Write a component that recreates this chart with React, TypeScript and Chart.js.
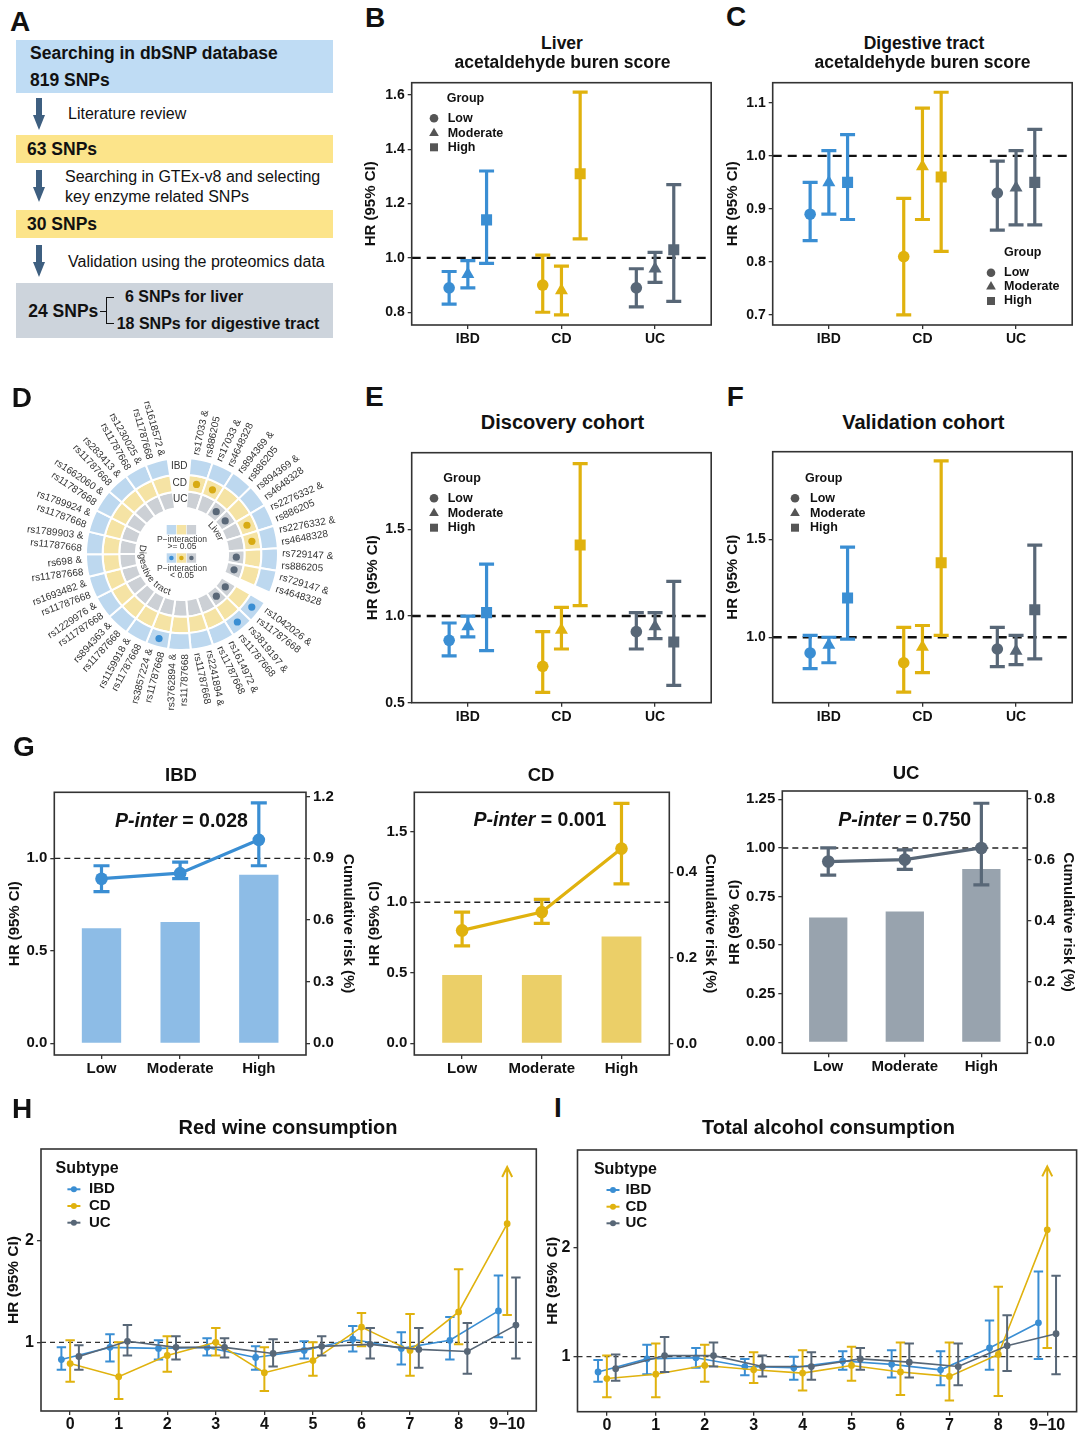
import React, { useEffect, useRef } from 'react';
import { Chart, registerables } from 'chart.js';

Chart.register(...registerables);

const FONT = '"Liberation Sans", Arial, Helvetica, sans-serif';

// ---------------- data ----------------
const SUBTYPES = ['IBD', 'CD', 'UC'];
const GROUPS = ['Low', 'Moderate', 'High'];
const LEVELS = ['0', '1', '2', '3', '4', '5', '6', '7', '8', '9−10'];

// B: liver acetaldehyde burden score, [subtype][group]
const B_HR = [[0.89, 0.94, 1.14], [0.90, 0.88, 1.31], [0.89, 0.96, 1.03]];
const B_LO = [[0.83, 0.89, 0.98], [0.80, 0.79, 1.07], [0.82, 0.91, 0.84]];
const B_HI = [[0.95, 0.99, 1.32], [1.01, 0.97, 1.61], [0.96, 1.02, 1.27]];
// C: digestive tract acetaldehyde burden score
const C_HR = [[0.89, 0.95, 0.95], [0.81, 0.98, 0.96], [0.93, 0.94, 0.95]];
const C_LO = [[0.84, 0.89, 0.88], [0.70, 0.88, 0.82], [0.86, 0.87, 0.87]];
const C_HI = [[0.95, 1.01, 1.04], [0.92, 1.09, 1.12], [0.99, 1.01, 1.05]];
// E: discovery cohort
const E_HR = [[0.86, 0.94, 1.02], [0.71, 0.92, 1.41], [0.91, 0.94, 0.85]];
const E_LO = [[0.77, 0.88, 0.80], [0.56, 0.81, 1.06], [0.81, 0.87, 0.60]];
const E_HI = [[0.96, 1.00, 1.30], [0.91, 1.05, 1.88], [1.02, 1.02, 1.20]];
// F: validation cohort
const F_HR = [[0.92, 0.96, 1.20], [0.87, 0.95, 1.38], [0.94, 0.93, 1.14]];
const F_LO = [[0.84, 0.87, 0.99], [0.72, 0.82, 1.01], [0.85, 0.86, 0.89]];
const F_HI = [[1.01, 1.00, 1.46], [1.05, 1.06, 1.90], [1.05, 1.01, 1.47]];

// G: HR line + cumulative risk bars, [subtype][group]
const G_HR = [[0.89, 0.92, 1.10], [0.80, 0.93, 1.38], [0.93, 0.94, 1.00]];
const G_LO = [[0.82, 0.89, 0.96], [0.69, 0.85, 1.13], [0.86, 0.89, 0.81]];
const G_HI = [[0.96, 0.98, 1.30], [0.93, 1.02, 1.70], [1.00, 0.99, 1.23]];
const G_RISK = [[0.56, 0.59, 0.82], [0.16, 0.16, 0.25], [0.41, 0.43, 0.57]];
const G_PINTER = ['0.028', '0.001', '0.750'];
const G_LEFT_TICKS = [[0, 0.5, 1.0], [0, 0.5, 1.0, 1.5], [0, 0.25, 0.5, 0.75, 1.0, 1.25]];
const G_RIGHT_TICKS = [[0, 0.3, 0.6, 0.9, 1.2], [0, 0.2, 0.4], [0, 0.2, 0.4, 0.6, 0.8]];

// H: red wine consumption, [subtype][level]
const H_HR = [
  [0.83, 0.95, 0.94, 0.95, 0.85, 0.92, 1.03, 0.94, 1.02, 1.31],
  [0.79, 0.66, 0.87, 1.00, 0.70, 0.82, 1.15, 0.92, 1.30, 2.17],
  [0.86, 1.01, 0.95, 0.95, 0.89, 0.96, 0.98, 0.93, 0.91, 1.17],
];
const H_LO = [
  [0.73, 0.81, 0.83, 0.87, 0.73, 0.84, 0.91, 0.78, 0.83, 1.05],
  [0.61, 0.44, 0.71, 0.87, 0.52, 0.67, 0.96, 0.67, 0.98, 1.27],
  [0.73, 0.87, 0.83, 0.85, 0.76, 0.87, 0.84, 0.75, 0.69, 0.84],
];
const H_HI = [
  [0.95, 1.08, 1.02, 1.04, 0.96, 1.01, 1.16, 1.10, 1.25, 1.66],
  [1.02, 1.00, 1.06, 1.14, 0.95, 1.00, 1.29, 1.28, 1.72, 2.73],
  [0.97, 1.17, 1.06, 1.04, 1.03, 1.06, 1.14, 1.14, 1.19, 1.64],
];
// I: total alcohol consumption
const I_HR = [
  [0.86, 0.98, 0.99, 0.91, 0.90, 0.96, 0.93, 0.88, 1.08, 1.31],
  [0.80, 0.84, 0.92, 0.88, 0.85, 0.92, 0.86, 0.82, 1.02, 2.16],
  [0.89, 1.01, 1.01, 0.91, 0.91, 0.98, 0.95, 0.91, 1.10, 1.21],
];
const I_LO = [
  [0.77, 0.84, 0.90, 0.83, 0.79, 0.88, 0.81, 0.74, 0.88, 0.98],
  [0.63, 0.63, 0.77, 0.76, 0.69, 0.78, 0.65, 0.60, 0.64, 1.08],
  [0.78, 0.86, 0.91, 0.82, 0.79, 0.88, 0.81, 0.74, 0.87, 0.84],
];
const I_HI = [
  [0.97, 1.11, 1.08, 0.98, 1.00, 1.05, 1.06, 1.05, 1.33, 1.78],
  [1.01, 1.12, 1.11, 1.04, 1.06, 1.09, 1.13, 1.13, 1.64, 2.74],
  [1.02, 1.18, 1.13, 1.01, 1.04, 1.08, 1.12, 1.12, 1.38, 1.74],
];
const OFFSCALE_CD_IDX = 9; // CD upper CI is off-scale at 9−10 (arrow)

// D: circular heatmap of SNP pairs
const D_LIVER = [
  'rs17033 & rs886205', 'rs17033 & rs4648328', 'rs894369 & rs886205', 'rs894369 & rs4648328',
  'rs2276332 & rs886205', 'rs2276332 & rs4648328', 'rs729147 & rs886205', 'rs729147 & rs4648328',
];
const D_DIGEST = [
  'rs1042026 & rs11787668', 'rs3819197 & rs11787668', 'rs1614972 & rs11787668', 'rs2241894 & rs11787668',
  'rs3762894 & rs11787668', 'rs3857224 & rs11787668', 'rs1159918 & rs11787668', 'rs894363 & rs11787668',
  'rs1229976 & rs11787668', 'rs1693482 & rs11787668', 'rs698 & rs11787668', 'rs1789903 & rs11787668',
  'rs1789924 & rs11787668', 'rs1662060 & rs11787668', 'rs283413 & rs11787668', 'rs1230025 & rs11787668',
  'rs1618572 & rs11787668',
];
// P-interaction < 0.05 flags (liver 8 then digestive 17), per ring IBD / CD / UC
const D_SIG = [
  [0, 0, 0, 0, 0, 0, 0, 0, 1, 1, 0, 0, 0, 1, 0, 0, 0, 0, 0, 0, 0, 0, 0, 0, 0],
  [1, 1, 0, 0, 1, 1, 0, 0, 0, 0, 0, 0, 0, 0, 0, 0, 0, 0, 0, 0, 0, 0, 0, 0, 0],
  [0, 0, 1, 1, 0, 0, 1, 1, 1, 1, 0, 0, 0, 0, 0, 0, 0, 0, 0, 0, 0, 0, 0, 0, 0],
];

// ---------------- styles ----------------
const COL = ['#3A8ED3', '#E0B20E', '#586777'];
const BAR_COL = ['#8DBCE6', '#EBCF68', '#98A3AE'];
const RING_COL = ['#BDD8EF', '#F5E3A4', '#CCD0D5'];
const DOT_COL = ['#3A8ED3', '#D8AB14', '#5A6878'];
const ARROW = '#3E5F80';

type Rect = { l: number; t: number; w: number; h: number };
type Area = { l: number; t: number; r: number; b: number };

const bold = (size: number) => ({ family: FONT, size, weight: 'bold' as const });

function layoutFor(c: Rect, a: Area, right = false) {
  return {
    padding: { top: a.t - c.t, left: 0, bottom: 0, right: right ? 0 : c.l + c.w - a.r },
    yW: a.l - c.l,
    xH: c.t + c.h - a.b,
    y2W: right ? c.l + c.w - a.r : 0,
  };
}

const gridOpts = { display: true, drawOnChartArea: false, drawTicks: true, tickLength: 4, color: '#333', lineWidth: 1.3, offset: false };

function yAxis(o: any) {
  return {
    type: 'linear',
    position: o.position || 'left',
    min: o.min,
    max: o.max,
    afterBuildTicks: (s: any) => { s.ticks = o.ticks.map((v: number) => ({ value: v })); },
    afterFit: (s: any) => { s.width = o.width; },
    ticks: { font: bold(o.size), color: '#111', padding: 3, autoSkip: false, callback: (v: any) => o.fmt(Number(v)) },
    grid: gridOpts,
    border: { display: false },
    title: { display: !!o.title, text: o.title || '', font: bold(o.titleSize || 15), color: '#111', padding: 0 },
  };
}

function xAxis(o: any) {
  return {
    type: 'linear',
    position: 'bottom',
    offset: false,
    min: o.min,
    max: o.max,
    afterBuildTicks: (s: any) => { s.ticks = o.ticks.map((v: number) => ({ value: v })); },
    afterFit: (s: any) => { s.height = o.height; },
    ticks: { font: bold(o.size), color: '#111', padding: o.pad ?? 2, autoSkip: false, maxRotation: 0, callback: (_v: any, i: number) => o.labels[i] },
    grid: gridOpts,
    border: { display: false },
  };
}

// ---------------- plugins ----------------
const framePlugin = {
  id: 'frame',
  afterDraw(chart: any) {
    const { ctx, chartArea: ca } = chart;
    ctx.save();
    ctx.strokeStyle = '#333';
    ctx.lineWidth = 1.6;
    ctx.strokeRect(ca.left, ca.top, ca.right - ca.left, ca.bottom - ca.top);
    ctx.restore();
  },
};

function refLine(value: number, dash: number[], width: number, color: string) {
  return {
    id: 'refline',
    beforeDatasetsDraw(chart: any) {
      const { ctx, chartArea: ca } = chart;
      const y = chart.scales.y.getPixelForValue(value);
      ctx.save();
      ctx.strokeStyle = color;
      ctx.lineWidth = width;
      ctx.setLineDash(dash);
      ctx.beginPath();
      ctx.moveTo(ca.left, y);
      ctx.lineTo(ca.right, y);
      ctx.stroke();
      ctx.restore();
    },
  };
}

const errPlugin = {
  id: 'errbars',
  beforeDatasetDraw(chart: any, args: any) {
    const ds: any = chart.data.datasets[args.index];
    if (!ds.errLo) return;
    const meta = args.meta;
    const ys = chart.scales[meta.yAxisID];
    const ctx = chart.ctx;
    ctx.save();
    ctx.strokeStyle = ds.errColor;
    ctx.lineWidth = ds.errWidth;
    ctx.lineCap = 'butt';
    meta.data.forEach((pt: any, i: number) => {
      const x = pt.x;
      const lo = ys.getPixelForValue(ds.errLo[i]);
      const hi = ys.getPixelForValue(ds.errHi[i]);
      const cw = ds.capW;
      ctx.beginPath();
      ctx.moveTo(x, lo);
      ctx.lineTo(x, hi);
      ctx.moveTo(x - cw, lo);
      ctx.lineTo(x + cw, lo);
      if (ds.arrowIdx === i) {
        ctx.moveTo(x - 5, hi + 10);
        ctx.lineTo(x, hi);
        ctx.lineTo(x + 5, hi + 10);
      } else {
        ctx.moveTo(x - cw, hi);
        ctx.lineTo(x + cw, hi);
      }
      ctx.stroke();
    });
    ctx.restore();
  },
};

function drawMarker(ctx: any, shape: string, x: number, y: number, color: string) {
  ctx.fillStyle = color;
  ctx.strokeStyle = color;
  ctx.beginPath();
  if (shape === 'circle') {
    ctx.arc(x, y, 4.3, 0, Math.PI * 2);
    ctx.fill();
  } else if (shape === 'triangle') {
    const r = 5.6;
    ctx.moveTo(x, y - r);
    ctx.lineTo(x + r * 0.866, y + r / 2);
    ctx.lineTo(x - r * 0.866, y + r / 2);
    ctx.closePath();
    ctx.fill();
  } else if (shape === 'rect') {
    ctx.rect(x - 4, y - 4, 8, 8);
    ctx.fill();
  } else if (shape === 'line') {
    ctx.lineWidth = 2;
    ctx.moveTo(x - 6.5, y);
    ctx.lineTo(x + 6.5, y);
    ctx.stroke();
    ctx.beginPath();
    ctx.arc(x, y, 3, 0, Math.PI * 2);
    ctx.fill();
  }
}

function legendPlugin(cfg: any) {
  return {
    id: 'lgd',
    afterDraw(chart: any) {
      const { ctx, chartArea: ca } = chart;
      ctx.save();
      ctx.textBaseline = 'middle';
      ctx.textAlign = 'left';
      ctx.fillStyle = '#111';
      ctx.font = `bold ${cfg.titleSize}px ${FONT}`;
      ctx.fillText(cfg.title, ca.left + cfg.titleX, ca.top + cfg.titleY);
      cfg.rows.forEach((row: any) => {
        const y = ca.top + row.y;
        drawMarker(ctx, row.shape, ca.left + cfg.markX, y, row.color);
        ctx.fillStyle = '#111';
        ctx.font = `bold ${cfg.size}px ${FONT}`;
        ctx.fillText(row.label, ca.left + cfg.textX, y);
      });
      ctx.restore();
    },
  };
}

// ---------------- chart configs ----------------
const DODGE3 = [-0.2, 0, 0.2];
const SHAPES = ['circle', 'triangle', 'rect'];

function dotConfig(p: any) {
  const L = layoutFor(p.canvas, p.area);
  const datasets = SUBTYPES.map((name, s) => ({
    label: name,
    data: GROUPS.map((_, g) => ({ x: s + 1 + DODGE3[g], y: p.hr[s][g] })),
    pointStyle: SHAPES,
    pointRadius: [5.8, 7.5, 7.8],
    pointHoverRadius: [5.8, 7.5, 7.8],
    pointBackgroundColor: COL[s],
    pointBorderColor: COL[s],
    pointBorderWidth: 0,
    showLine: false,
    errLo: p.lo[s],
    errHi: p.hi[s],
    errColor: COL[s],
    errWidth: 3.2,
    capW: 7.5,
  }));
  const lg = p.legend;
  return {
    type: 'scatter',
    data: { datasets },
    options: {
      responsive: false,
      animation: false,
      events: [],
      layout: { padding: L.padding },
      scales: {
        x: xAxis({ min: 0.4, max: 3.6, ticks: [1, 2, 3], labels: SUBTYPES, height: L.xH, size: 14, pad: 2 }),
        y: yAxis({ min: p.yMin, max: p.yMax, ticks: p.yTicks, fmt: (v: number) => v.toFixed(1), width: L.yW, size: 14, title: 'HR (95% CI)', titleSize: 15 }),
      },
      plugins: { legend: { display: false }, tooltip: { enabled: false } },
    },
    plugins: [
      refLine(1, [9, 6], 2.4, '#111'),
      errPlugin,
      framePlugin,
      legendPlugin({
        title: 'Group', titleSize: 12.5, size: 12.5,
        titleX: lg.titleX, titleY: lg.titleY, markX: lg.markX, textX: lg.textX,
        rows: GROUPS.map((label, g) => ({ label, shape: SHAPES[g], color: '#555', y: lg.rows[g] })),
      }),
    ],
  };
}

function comboConfig(p: any) {
  const s = p.s;
  const L = layoutFor(p.canvas, p.area, true);
  return {
    type: 'bar',
    data: {
      datasets: [
        {
          type: 'line',
          data: G_HR[s].map((y, i) => ({ x: i + 1, y })),
          borderColor: COL[s],
          backgroundColor: COL[s],
          borderWidth: 3.2,
          pointRadius: 6.3,
          pointHoverRadius: 6.3,
          pointBackgroundColor: COL[s],
          pointBorderWidth: 0,
          tension: 0,
          yAxisID: 'y',
          errLo: G_LO[s],
          errHi: G_HI[s],
          errColor: COL[s],
          errWidth: 3.2,
          capW: 8,
        },
        {
          type: 'bar',
          data: G_RISK[s].map((y, i) => ({ x: i + 1, y })),
          backgroundColor: BAR_COL[s],
          borderWidth: 0,
          barPercentage: 0.5,
          categoryPercentage: 1,
          yAxisID: 'y2',
        },
      ],
    },
    options: {
      responsive: false,
      animation: false,
      events: [],
      layout: { padding: L.padding },
      scales: {
        x: xAxis({ min: 0.4, max: 3.6, ticks: [1, 2, 3], labels: GROUPS, height: L.xH, size: 15, pad: 1 }),
        y: yAxis({ min: p.yMin, max: p.yMax, ticks: G_LEFT_TICKS[s], fmt: p.fmtL, width: L.yW, size: 15, title: 'HR (95% CI)', titleSize: 15 }),
        y2: yAxis({ position: 'right', min: p.y2Min, max: p.y2Max, ticks: G_RIGHT_TICKS[s], fmt: (v: number) => v.toFixed(1), width: L.y2W, size: 15, title: 'Cumulative risk (%)', titleSize: 15 }),
      },
      plugins: { legend: { display: false }, tooltip: { enabled: false } },
    },
    plugins: [refLine(1, [6, 4], 1.4, '#222'), errPlugin, framePlugin],
  };
}

const DODGE_T = [-0.18, 0, 0.18];

function trendConfig(p: any) {
  const L = layoutFor(p.canvas, p.area);
  const datasets = SUBTYPES.map((name, s) => ({
    label: name,
    data: p.hr[s].map((y: number, i: number) => ({ x: i + DODGE_T[s], y })),
    showLine: true,
    borderColor: COL[s],
    backgroundColor: COL[s],
    borderWidth: 1.6,
    pointRadius: 3.4,
    pointHoverRadius: 3.4,
    pointBackgroundColor: COL[s],
    pointBorderWidth: 0,
    order: 3 - s,
    errLo: p.lo[s],
    errHi: p.hi[s],
    errColor: COL[s],
    errWidth: 2,
    capW: 4.7,
    arrowIdx: s === 1 ? OFFSCALE_CD_IDX : -1,
  }));
  const lg = p.legend;
  return {
    type: 'scatter',
    data: { datasets },
    options: {
      responsive: false,
      animation: false,
      events: [],
      layout: { padding: L.padding },
      scales: {
        x: xAxis({ min: -0.6, max: 9.6, ticks: LEVELS.map((_, i) => i), labels: LEVELS, height: L.xH, size: 16, pad: 0 }),
        y: yAxis({ min: p.yMin, max: p.yMax, ticks: [1, 2], fmt: (v: number) => String(Math.round(v)), width: L.yW, size: 16, title: 'HR (95% CI)', titleSize: 15.5 }),
      },
      plugins: { legend: { display: false }, tooltip: { enabled: false } },
    },
    plugins: [
      refLine(1, [5, 4], 1.2, '#333'),
      errPlugin,
      framePlugin,
      legendPlugin({
        title: 'Subtype', titleSize: 16, size: 15,
        titleX: lg.titleX, titleY: 20, markX: lg.markX, textX: lg.textX,
        rows: SUBTYPES.map((label, s) => ({ label, shape: 'line', color: COL[s], y: lg.rows[s] })),
      }),
    ],
  };
}

// ---- D: circos-like doughnut ----
function arcText(ctx: any, text: string, cx: number, cy: number, r: number, clockDeg: number, clockwise: boolean) {
  const total = ctx.measureText(text).width;
  const c = ((clockDeg - 90) * Math.PI) / 180;
  let acc = 0;
  for (const ch of text) {
    const w = ctx.measureText(ch).width;
    const off = (acc + w / 2 - total / 2) / r;
    const a = clockwise ? c + off : c - off;
    ctx.save();
    ctx.translate(cx + Math.cos(a) * r, cy + Math.sin(a) * r);
    ctx.rotate(clockwise ? a + Math.PI / 2 : a - Math.PI / 2);
    ctx.textAlign = 'center';
    ctx.fillText(ch, 0, 0);
    ctx.restore();
    acc += w;
  }
}

const circosPlugin = {
  id: 'circos',
  afterDatasetsDraw(chart: any) {
    const ctx = chart.ctx;
    const m = [0, 1, 2].map((i) => chart.getDatasetMeta(i).data as any[]);
    const cx = m[0][0].x;
    const cy = m[0][0].y;
    const nL = D_LIVER.length;
    const segIdx = (k: number) => (k < nL ? k : k + 1);
    const pairs = [...D_LIVER, ...D_DIGEST];
    const topGap = m[0].length - 1;
    ctx.save();
    D_SIG.forEach((row, r) => {
      row.forEach((f, k) => {
        if (!f) return;
        const arc = m[r][segIdx(k)];
        const a = (arc.startAngle + arc.endAngle) / 2;
        const rr = (arc.innerRadius + arc.outerRadius) / 2;
        ctx.fillStyle = DOT_COL[r];
        ctx.beginPath();
        ctx.arc(cx + Math.cos(a) * rr, cy + Math.sin(a) * rr, 3.6, 0, Math.PI * 2);
        ctx.fill();
      });
    });
    ctx.font = `10px ${FONT}`;
    ctx.fillStyle = '#333';
    ctx.textBaseline = 'middle';
    pairs.forEach((pair, k) => {
      const arc = m[0][segIdx(k)];
      const a = (arc.startAngle + arc.endAngle) / 2;
      let clock = (a + Math.PI / 2) % (Math.PI * 2);
      if (clock < 0) clock += Math.PI * 2;
      const right = clock < Math.PI;
      const R0 = arc.outerRadius + 4;
      const parts = pair.split(' & ');
      ctx.save();
      ctx.translate(cx + Math.cos(a) * R0, cy + Math.sin(a) * R0);
      ctx.rotate(right ? a : a + Math.PI);
      ctx.textAlign = right ? 'left' : 'right';
      ctx.fillText(parts[0] + ' &', 0, -6.3);
      ctx.fillText(parts[1], 0, 6.3);
      ctx.restore();
    });
    ctx.textAlign = 'center';
    ctx.fillStyle = '#333';
    SUBTYPES.forEach((name, r) => {
      const arc = m[r][topGap];
      const a = (arc.startAngle + arc.endAngle) / 2;
      const rr = (arc.innerRadius + arc.outerRadius) / 2;
      ctx.fillText(name, cx + Math.cos(a) * rr, cy + Math.sin(a) * rr);
    });
    ctx.font = `9.5px ${FONT}`;
    ctx.fillStyle = '#333';
    arcText(ctx, 'Liver', cx, cy, 41, 56, true);
    arcText(ctx, 'Digestive tract', cx, cy, 40, 240, false);
    const xs = [-15.3, -5.3, 4.7];
    const sq = 9.4;
    xs.forEach((x, i) => {
      ctx.fillStyle = RING_COL[i];
      ctx.fillRect(cx + x, cy - 29, sq, sq);
      ctx.fillRect(cx + x, cy - 0.7, sq, sq);
      ctx.fillStyle = DOT_COL[i];
      ctx.beginPath();
      ctx.arc(cx + x + sq / 2, cy - 0.7 + sq / 2, 2.3, 0, Math.PI * 2);
      ctx.fill();
    });
    ctx.font = `8.5px ${FONT}`;
    ctx.fillStyle = '#333';
    ctx.textAlign = 'center';
    ctx.fillText('P−interaction', cx, cy - 14.8);
    ctx.fillText('>= 0.05', cx, cy - 7.3);
    ctx.fillText('P−interaction', cx, cy + 14.3);
    ctx.fillText('< 0.05', cx, cy + 22);
    ctx.restore();
  },
};

function circosConfig() {
  const nL = D_LIVER.length;
  const nD = D_DIGEST.length;
  const weights = [...D_LIVER.map(() => 1), 0.5, ...D_DIGEST.map(() => 1), 1];
  const isGap = (i: number) => i === nL || i === nL + nD + 1;
  return {
    type: 'doughnut',
    data: {
      labels: weights.map((_, i) => String(i)),
      datasets: RING_COL.map((c) => ({
        data: weights,
        backgroundColor: weights.map((_, i) => (isGap(i) ? 'rgba(0,0,0,0)' : c)),
        borderColor: '#ffffff',
        borderWidth: weights.map((_, i) => (isGap(i) ? 0 : 2)),
        hoverOffset: 0,
      })),
    },
    options: {
      responsive: false,
      animation: false,
      events: [],
      rotation: 5,
      cutout: '48%',
      layout: { padding: { left: 85, top: 77, right: 81, bottom: 69 } },
      plugins: { legend: { display: false }, tooltip: { enabled: false } },
    },
    plugins: [circosPlugin],
  };
}

// ---------------- components ----------------
function ChartCanvas({ rect, make }: { rect: Rect; make: () => any }) {
  const ref = useRef<HTMLCanvasElement | null>(null);
  useEffect(() => {
    if (!ref.current) return;
    const ch = new Chart(ref.current, make());
    return () => ch.destroy();
  }, []);
  return (
    <canvas
      ref={ref}
      width={rect.w}
      height={rect.h}
      style={{ position: 'absolute', left: rect.l, top: rect.t, width: rect.w, height: rect.h }}
    />
  );
}

function T(props: { x: number; y: number; s: number; children: any; anchor?: string; bold?: boolean; color?: string }) {
  const { x, y, s, children, anchor = 'start', bold: b = true, color = '#111' } = props;
  const tx = anchor === 'middle' ? '-50%' : anchor === 'end' ? '-100%' : '0';
  return (
    <div
      style={{
        position: 'absolute', left: x, top: y - s / 2, fontSize: s, lineHeight: 1, fontFamily: FONT,
        fontWeight: b ? 700 : 400, whiteSpace: 'nowrap', transform: `translateX(${tx})`, color,
      }}
    >
      {children}
    </div>
  );
}

function DownArrow({ x, y1, y2 }: { x: number; y1: number; y2: number }) {
  const head = 15;
  const hw = 6.4;
  const sw = 2.8;
  return (
    <>
      <div style={{ position: 'absolute', left: x - sw, top: y1, width: sw * 2, height: y2 - y1 - head + 1, background: ARROW }} />
      <div
        style={{
          position: 'absolute', left: x - hw, top: y2 - head, width: 0, height: 0,
          borderLeft: `${hw}px solid transparent`, borderRight: `${hw}px solid transparent`, borderTop: `${head}px solid ${ARROW}`,
        }}
      />
    </>
  );
}

function Box({ l, t, w, h, bg }: { l: number; t: number; w: number; h: number; bg: string }) {
  return <div style={{ position: 'absolute', left: l, top: t, width: w, height: h, background: bg }} />;
}

function Line({ x1, y1, x2, y2 }: { x1: number; y1: number; x2: number; y2: number }) {
  return <div style={{ position: 'absolute', left: Math.min(x1, x2), top: Math.min(y1, y2), width: Math.max(Math.abs(x2 - x1), 1.4), height: Math.max(Math.abs(y2 - y1), 1.4), background: '#111' }} />;
}

const RECT_B = { l: 362, t: 66, w: 357, h: 284 };
const AREA_B = { l: 411.7, t: 82.7, r: 711.7, b: 325 };
const RECT_C = { l: 724, t: 66, w: 356, h: 284 };
const AREA_C = { l: 772.7, t: 82.7, r: 1072.7, b: 325 };
const RECT_E = { l: 364, t: 436, w: 355, h: 294 };
const AREA_E = { l: 411.7, t: 452.7, r: 711.7, b: 702.7 };
const RECT_F = { l: 724, t: 436, w: 356, h: 294 };
const AREA_F = { l: 772.7, t: 451.7, r: 1072.7, b: 702.7 };
const RECT_G = [
  { l: 6, t: 776, w: 351, h: 309 },
  { l: 366, t: 776, w: 353, h: 309 },
  { l: 726, t: 776, w: 351, h: 309 },
];
const AREA_G = [
  { l: 54.3, t: 792.3, r: 306, b: 1055 },
  { l: 414.3, t: 792.3, r: 669.3, b: 1055 },
  { l: 782.3, t: 791, r: 1027.3, b: 1053.3 },
];
const G_RANGE = [
  { yMin: -0.063, yMax: 1.357, y2Min: -0.057, y2Max: 1.221, fmtL: (v: number) => v.toFixed(1) },
  { yMin: -0.083, yMax: 1.779, y2Min: -0.027, y2Max: 0.587, fmtL: (v: number) => v.toFixed(1) },
  { yMin: -0.057, yMax: 1.293, y2Min: -0.036, y2Max: 0.826, fmtL: (v: number) => v.toFixed(2) },
];
const RECT_H = { l: 4, t: 1134, w: 541, h: 305 };
const AREA_H = { l: 41, t: 1149, r: 536.3, b: 1411 };
const RECT_I = { l: 543, t: 1134, w: 537, h: 305 };
const AREA_I = { l: 577.5, t: 1150, r: 1077.5, b: 1411.7 };
const RECT_D = { l: 0, t: 380, w: 360, h: 340 };

export default function App() {
  return (
    <div style={{ position: 'absolute', left: 0, top: 0, width: 1080, height: 1439, background: '#fff', overflow: 'hidden' }}>
      {/* Panel A flowchart */}
      <Box l={16} t={40} w={317} h={53} bg="#BFDCF4" />
      <Box l={16} t={135} w={317} h={28} bg="#FCE48A" />
      <Box l={16} t={210} w={317} h={28} bg="#FCE48A" />
      <Box l={16} t={283} w={317} h={55} bg="#CDD4DC" />
      <T x={30} y={53.5} s={17.5}>Searching in dbSNP database</T>
      <T x={30} y={81} s={17.5}>819 SNPs</T>
      <DownArrow x={39} y1={98} y2={130} />
      <T x={68} y={113.5} s={16} bold={false}>Literature review</T>
      <T x={27} y={149.3} s={17.5}>63 SNPs</T>
      <DownArrow x={39} y1={170} y2={202} />
      <T x={65} y={177} s={16} bold={false}>Searching in GTEx-v8 and selecting</T>
      <T x={65} y={196.7} s={16} bold={false}>key enzyme related SNPs</T>
      <T x={27} y={225} s={17.5}>30 SNPs</T>
      <DownArrow x={39} y1={245} y2={277} />
      <T x={68} y={261.7} s={16} bold={false}>Validation using the proteomics data</T>
      <T x={28.3} y={311.7} s={17.5}>24 SNPs</T>
      <Line x1={100} y1={311} x2={106} y2={311} />
      <Line x1={106} y1={297} x2={106} y2={323.5} />
      <Line x1={106} y1={297} x2={114} y2={297} />
      <Line x1={106} y1={322.5} x2={114} y2={322.5} />
      <T x={125} y={297} s={16}>6 SNPs for liver</T>
      <T x={116.7} y={323.5} s={16}>18 SNPs for digestive tract</T>

      {/* Charts */}
      <ChartCanvas rect={RECT_B} make={() => dotConfig({
        canvas: RECT_B, area: AREA_B, hr: B_HR, lo: B_LO, hi: B_HI, yMin: 0.753, yMax: 1.645, yTicks: [0.8, 1.0, 1.2, 1.4, 1.6],
        legend: { titleX: 35, titleY: 16.3, markX: 22.3, textX: 36, rows: [35.6, 50.6, 64.6] },
      })} />
      <ChartCanvas rect={RECT_C} make={() => dotConfig({
        canvas: RECT_C, area: AREA_C, hr: C_HR, lo: C_LO, hi: C_HI, yMin: 0.681, yMax: 1.138, yTicks: [0.7, 0.8, 0.9, 1.0, 1.1],
        legend: { titleX: 231.3, titleY: 170, markX: 218.3, textX: 231.3, rows: [190, 204, 218.3] },
      })} />
      <ChartCanvas rect={RECT_D} make={circosConfig} />
      <ChartCanvas rect={RECT_E} make={() => dotConfig({
        canvas: RECT_E, area: AREA_E, hr: E_HR, lo: E_LO, hi: E_HI, yMin: 0.5, yMax: 1.943, yTicks: [0.5, 1.0, 1.5],
        legend: { titleX: 31.6, titleY: 25.6, markX: 22.3, textX: 36, rows: [45.6, 60.6, 75] },
      })} />
      <ChartCanvas rect={RECT_F} make={() => dotConfig({
        canvas: RECT_F, area: AREA_F, hr: F_HR, lo: F_LO, hi: F_HI, yMin: 0.666, yMax: 1.947, yTicks: [1.0, 1.5],
        legend: { titleX: 32.3, titleY: 26.6, markX: 22.3, textX: 37.3, rows: [46.6, 61.6, 76] },
      })} />
      {[0, 1, 2].map((s) => (
        <ChartCanvas key={s} rect={RECT_G[s]} make={() => comboConfig({ s, canvas: RECT_G[s], area: AREA_G[s], ...G_RANGE[s] })} />
      ))}
      <ChartCanvas rect={RECT_H} make={() => trendConfig({
        canvas: RECT_H, area: AREA_H, hr: H_HR, lo: H_LO, hi: H_HI, yMin: 0.322, yMax: 2.908,
        legend: { titleX: 14.6, markX: 32.9, textX: 48, rows: [40.3, 57, 73.7] },
      })} />
      <ChartCanvas rect={RECT_I} make={() => trendConfig({
        canvas: RECT_I, area: AREA_I, hr: I_HR, lo: I_LO, hi: I_HI, yMin: 0.497, yMax: 2.89,
        legend: { titleX: 16.4, markX: 35.5, textX: 48, rows: [40, 56.7, 73.3] },
      })} />

      {/* Panel letters */}
      <T x={10} y={22} s={28}>A</T>
      <T x={365} y={18} s={28}>B</T>
      <T x={726} y={17} s={28}>C</T>
      <T x={11.7} y={398} s={28}>D</T>
      <T x={365} y={397} s={28}>E</T>
      <T x={726.7} y={397} s={28}>F</T>
      <T x={13} y={747} s={28}>G</T>
      <T x={12} y={1109} s={28}>H</T>
      <T x={554} y={1108} s={28}>I</T>

      {/* Titles */}
      <T x={562} y={43.3} s={17.5} anchor="middle">Liver</T>
      <T x={562.5} y={62.7} s={17.5} anchor="middle">acetaldehyde buren score</T>
      <T x={924} y={43.3} s={17.5} anchor="middle">Digestive tract</T>
      <T x={922.5} y={62.7} s={17.5} anchor="middle">acetaldehyde buren score</T>
      <T x={562.5} y={422.3} s={20} anchor="middle">Discovery cohort</T>
      <T x={923.3} y={422.3} s={20} anchor="middle">Validation cohort</T>
      <T x={181} y={775} s={18.5} anchor="middle">IBD</T>
      <T x={541} y={775} s={18.5} anchor="middle">CD</T>
      <T x={906} y={773.3} s={18.5} anchor="middle">UC</T>
      {[181.5, 540, 904.7].map((x, s) => (
        <T key={s} x={x} y={s === 0 ? 821 : 820} s={19.5} anchor="middle">
          <i>P-inter</i> = {G_PINTER[s]}
        </T>
      ))}
      <T x={288} y={1126.7} s={20} anchor="middle">Red wine consumption</T>
      <T x={828.5} y={1127.3} s={20} anchor="middle">Total alcohol consumption</T>
    </div>
  );
}
